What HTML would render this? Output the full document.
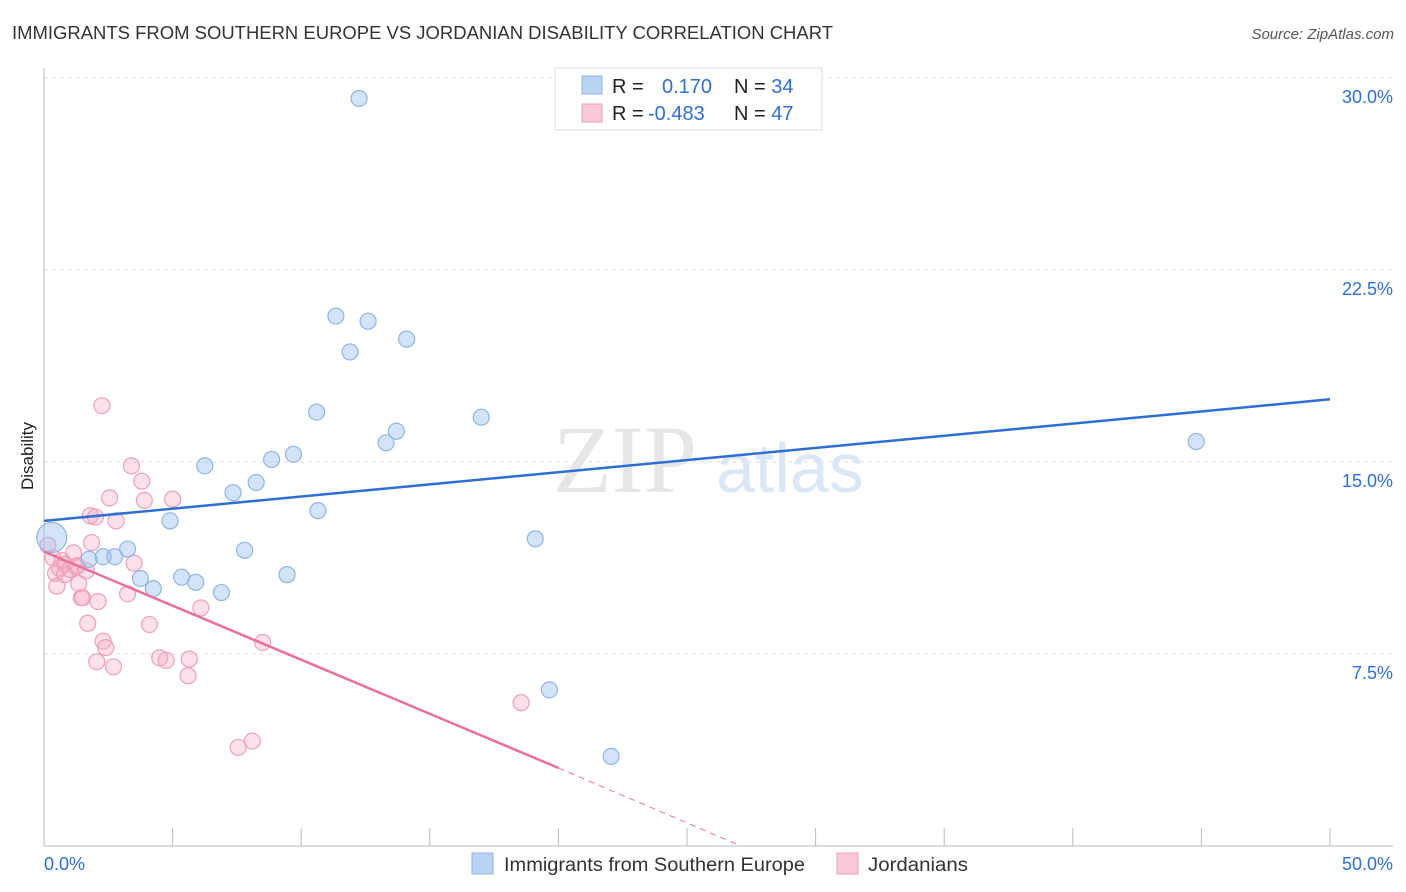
<!DOCTYPE html>
<html><head><meta charset="utf-8"><style>
body{margin:0;background:#fff;font-family:"Liberation Sans",sans-serif;}
svg{display:block}
</style></head><body>
<svg id="chart" width="1406" height="892" viewBox="0 0 1406 892">
<text x="12" y="39" font-size="18" fill="#333" textLength="821" lengthAdjust="spacingAndGlyphs">IMMIGRANTS FROM SOUTHERN EUROPE VS JORDANIAN DISABILITY CORRELATION CHART</text>
<text x="1394" y="39" font-size="15" fill="#555" font-style="italic" text-anchor="end">Source: ZipAtlas.com</text>
<text x="0" y="0" transform="translate(33,456) rotate(-90)" font-size="17" fill="#222" text-anchor="middle">Disability</text>
<g id="grid"></g>
<text x="553" y="492" font-size="96" fill="#e6e6e6" font-family="Liberation Serif,serif">ZIP</text>
<text x="716" y="492" font-size="70" fill="#dce7f5">atlas</text>
<g id="points"></g>
<g id="lines"></g>
<g>
<rect x="555" y="68" width="267" height="62" fill="#fff" stroke="#ddd"/>
<rect x="582" y="76" width="20" height="18" fill="#b9d3f5" stroke="#8fb5e6"/>
<rect x="582" y="104" width="20" height="18" fill="#f9c9d8" stroke="#eea0b8"/>
<text x="612" y="93" font-size="20" fill="#222">R = <tspan fill="#2f6fd4" x="662">0.170</tspan><tspan x="734" fill="#222">N = </tspan><tspan fill="#2f6fd4">34</tspan></text>
<text x="612" y="120" font-size="20" fill="#222">R = <tspan fill="#2f6fd4" x="648">-0.483</tspan><tspan x="734" fill="#222">N = </tspan><tspan fill="#2f6fd4">47</tspan></text>
</g>
<g>
<rect x="472" y="853" width="21" height="21" fill="#b9d3f5" stroke="#8fb5e6"/>
<text x="504" y="871" font-size="19" fill="#333" textLength="301" lengthAdjust="spacingAndGlyphs">Immigrants from Southern Europe</text>
<rect x="837" y="853" width="21" height="21" fill="#f9c9d8" stroke="#eea0b8"/>
<text x="868" y="871" font-size="19" fill="#333" textLength="100" lengthAdjust="spacingAndGlyphs">Jordanians</text>
</g>
</svg>
<script>
const yTicks=[7.5,15,22.5,30];
const yTickLabels=["7.5%","15.0%","22.5%","30.0%"];
const xTickLabels=["0.0%","50.0%"];
const blueX=[12.25,11.35,12.6,11.9,14.1,10.6,17.0,13.7,13.3,9.7,8.85,6.25,8.25,7.35,10.65,4.9,3.25,7.8,2.3,1.75,2.75,3.75,5.35,5.9,4.25,6.9,9.45,19.1,19.65,22.05,44.8,0.3];
const blueY=[29.2,20.7,20.5,19.3,19.8,16.95,16.75,16.2,15.75,15.3,15.1,14.85,14.2,13.8,13.1,12.7,11.6,11.55,11.3,11.2,11.3,10.45,10.5,10.3,10.05,9.9,10.6,12.0,6.1,3.5,15.8,12.05];
const pinkX=[2.25,3.4,3.8,2.55,3.9,5.0,1.8,2.0,2.8,0.15,1.85,1.15,0.35,0.7,0.8,1.25,1.65,0.45,0.5,1.35,1.45,1.5,2.1,3.25,3.5,4.1,6.1,1.7,2.3,2.4,2.05,2.7,4.5,4.75,5.65,5.6,8.5,7.55,8.1,18.55,0.8,1.0,0.6,1.3];
const pinkY=[17.2,14.85,14.25,13.6,13.5,13.55,12.9,12.85,12.7,11.75,11.85,11.45,11.25,11.15,11.0,10.9,10.75,10.65,10.15,10.25,9.7,9.7,9.55,9.85,11.05,8.65,9.3,8.7,8.0,7.75,7.2,7.0,7.35,7.25,7.3,6.65,7.95,3.85,4.1,5.6,10.6,10.8,10.85,10.95];
const blueTrend=[[0,12.7],[50,17.45]];
const pinkTrend=[[0,11.5],[20,3.05],[27.1,0]];
const NS="http://www.w3.org/2000/svg";
const sx=v=>44+v*25.72, sy=v=>846-v*25.6;
function mk(tag,attrs,parent){const e=document.createElementNS(NS,tag);for(const k in attrs)e.setAttribute(k,attrs[k]);parent.appendChild(e);return e;}
const grid=document.getElementById('grid');
yTicks.forEach((t,i)=>{
 const l=mk('line',{x1:44,x2:1393,y1:sy(t),y2:sy(t),stroke:'#ddd','stroke-dasharray':'4,4'},grid);
 
 
 const tx=mk('text',{x:1393,y:sy(t)+25,'font-size':18,fill:'#2f6fd4','text-anchor':'end'},grid);
 tx.textContent=yTickLabels[i];
 
 
});
const ax=mk('line',{x1:44,x2:44,y1:68,y2:846,stroke:'#bbb'},grid);


const bx=mk('line',{x1:44,x2:1393,y1:846,y2:846,stroke:'#bbb'},grid);


for(let v=0;v<=50;v+=5){const t=mk('line',{x1:sx(v),x2:sx(v),y1:828,y2:846,stroke:'#bbb'},grid);
 
 }
[[0,'start',44],[50,'end',1393]].forEach((d,i)=>{const t=mk('text',{x:d[2],y:870,'font-size':18,fill:'#2f6fd4','text-anchor':d[1]},grid);t.textContent=xTickLabels[i];
 
 });
const pts=document.getElementById('points');
pinkX.forEach((x,i)=>{const c=mk('circle',{cx:sx(x),cy:sy(pinkY[i]),r:8,fill:'rgba(245,170,195,0.35)',stroke:'#eea0b8','stroke-width':1.2},pts);
 
 });
blueX.forEach((x,i)=>{const c=mk('circle',{cx:sx(x),cy:sy(blueY[i]),r:i==blueX.length-1?15:8,fill:'rgba(160,196,240,0.45)',stroke:'#8fb5e6','stroke-width':1.2},pts);
 
 });
const lines=document.getElementById('lines');
const bl=mk('line',{x1:sx(blueTrend[0][0]),y1:sy(blueTrend[0][1]),x2:sx(blueTrend[1][0]),y2:sy(blueTrend[1][1]),stroke:'#2f6fd4','stroke-width':2.5},lines);


const pl=mk('line',{x1:sx(pinkTrend[0][0]),y1:sy(pinkTrend[0][1]),x2:sx(pinkTrend[1][0]),y2:sy(pinkTrend[1][1]),stroke:'#e8709a','stroke-width':2.5},lines);


const pd=mk('line',{x1:sx(pinkTrend[1][0]),y1:sy(pinkTrend[1][1]),x2:sx(pinkTrend[2][0]),y2:sy(pinkTrend[2][1]),stroke:'#e8709a','stroke-width':1,'stroke-dasharray':'6,5'},lines);


</script>
</body></html>
